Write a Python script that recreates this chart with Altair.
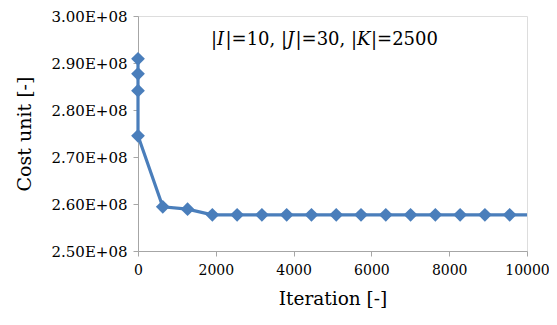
import altair as alt
import pandas as pd

# Data
iterations = [0, 0, 0, 0, 637, 1274, 1911, 2548, 3185, 3822, 4459, 5096,
              5733, 6370, 7007, 7644, 8281, 8918, 9555]
cost = [2.909e8, 2.877e8, 2.841e8, 2.745e8, 2.594e8, 2.589e8, 2.577e8, 2.577e8,
        2.577e8, 2.577e8, 2.577e8, 2.577e8, 2.577e8, 2.577e8, 2.577e8, 2.577e8,
        2.577e8, 2.577e8, 2.577e8]
line_end_iter = 10000
line_end_cost = 2.577e8

x_ticks = [0, 2000, 4000, 6000, 8000, 10000]
y_ticks = [2.5e8, 2.6e8, 2.7e8, 2.8e8, 2.9e8, 3.0e8]
annotation = ["|", "I", "|=10, |", "J", "|=30, |", "K", "|=2500"]
annotation_italic = [False, True, False, True, False, True, False]

pts = pd.DataFrame({"iter": iterations, "cost": cost, "ord": list(range(len(iterations)))})
line_df = pd.concat([pts, pd.DataFrame({"iter": [line_end_iter], "cost": [line_end_cost],
                                        "ord": [len(iterations)]})], ignore_index=True)

FONT = "DejaVu Serif"
BLUE = "#4A7EBB"
GRAY = "#A6A6A6"

x = alt.X("iter:Q", scale=alt.Scale(domain=[0, 10000], nice=False),
          axis=alt.Axis(values=x_ticks, title="Iteration [-]", grid=False, format="d",
                        labelFont=FONT, labelFontSize=14, labelColor="black",
                        titleFont=FONT, titleFontSize=18.5, titleFontWeight="normal",
                        titleColor="black", titlePadding=12,
                        domainColor=GRAY, tickColor=GRAY, tickSize=5, labelPadding=7,
                        labelFlush=False, labelOverlap=False))
y = alt.Y("cost:Q", scale=alt.Scale(domain=[2.5e8, 3.0e8], nice=False, zero=False),
          axis=alt.Axis(values=y_ticks, title="Cost unit [-]", grid=False,
                        labelExpr="format(datum.value/1e8, '.2f') + 'E+08'",
                        labelFont=FONT, labelFontSize=15, labelColor="black",
                        titleFont=FONT, titleFontSize=19, titleFontWeight="normal",
                        titleColor="black", titlePadding=16,
                        domainColor=GRAY, tickColor=GRAY, tickSize=5, labelPadding=6,
                        labelFlush=False, labelOverlap=False))

line = alt.Chart(line_df).mark_line(color=BLUE, strokeWidth=3.2).encode(
    x=x, y=y, order="ord:Q")
points = alt.Chart(pts).mark_point(shape="diamond", filled=True, color=BLUE,
                                   size=190, opacity=1).encode(x="iter:Q", y="cost:Q")

# annotation built from segments (italic letters)
seg_x = [73, 79.1, 87.5, 149.1, 157.5, 219.1, 233.0]
layers = [line, points]
for txt, it, sx in zip(annotation, annotation_italic, seg_x):
    layers.append(
        alt.Chart(pd.DataFrame({"t": [txt]})).mark_text(
            font=FONT, fontSize=18, fontStyle="italic" if it else "normal",
            align="left", baseline="alphabetic", color="black"
        ).encode(text="t:N", x=alt.value(sx), y=alt.value(29))
    )

chart = alt.layer(*layers).properties(
    width=389, height=235, autosize="none",
    padding={"left": 130, "top": 8, "right": 22, "bottom": 74}
).configure_view(stroke=None).configure(background="white")

chart.save("out.html", embed_options={"renderer": "svg", "actions": False})
